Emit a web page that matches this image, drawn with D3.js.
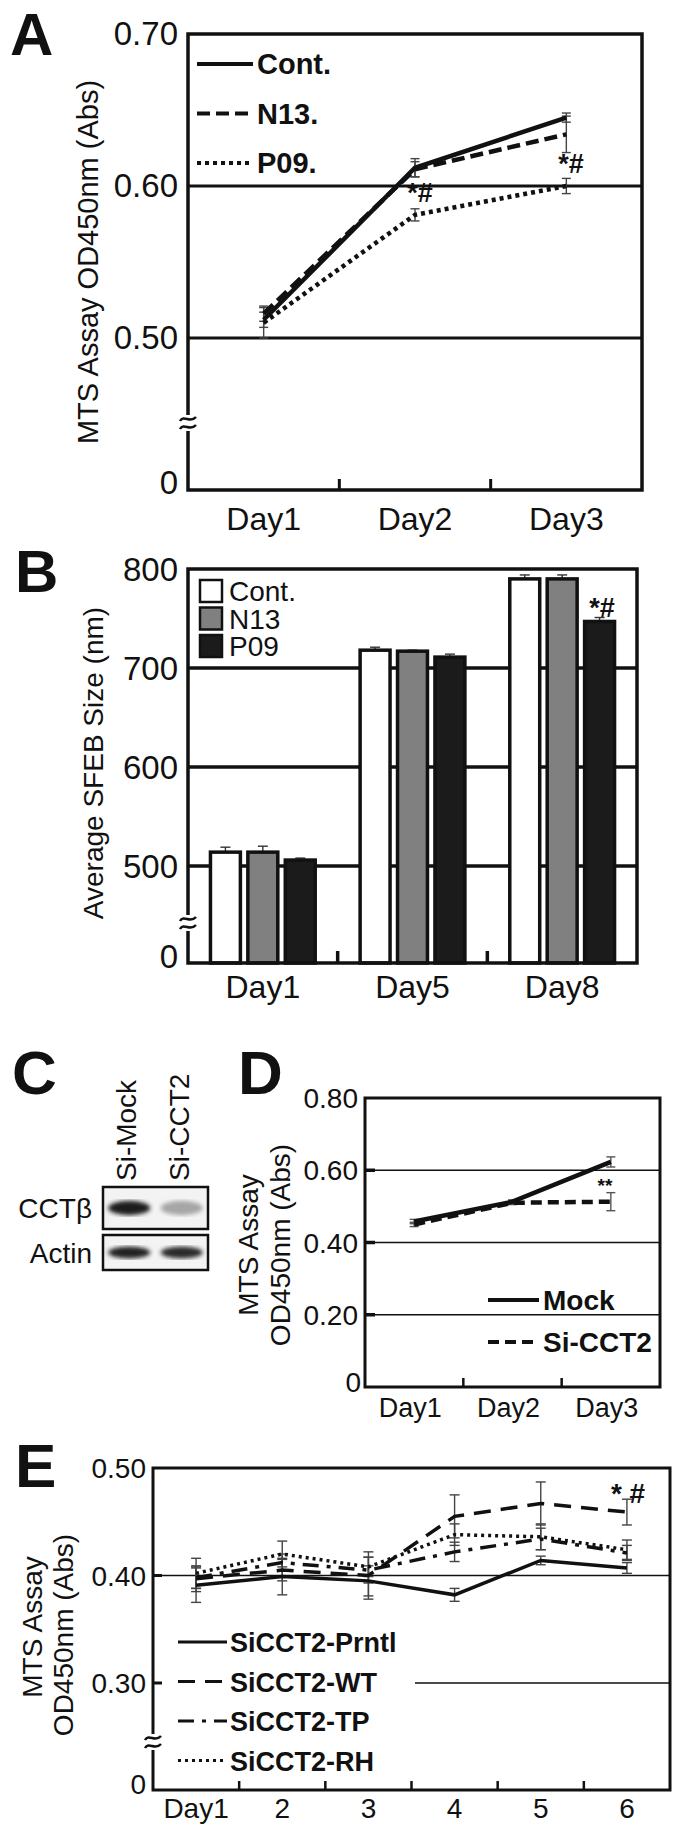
<!DOCTYPE html>
<html>
<head>
<meta charset="utf-8">
<script src="https://cdn.jsdelivr.net/npm/d3@7"></script>
<style>
  body { margin: 0; background: #fff; }
  text { font-family: "Liberation Sans", Arial, sans-serif; fill: #111; }
</style>
</head>
<body>
<div id="fig"></div>
<script>
// ---------- data ----------
// A: MTS assay, stable lines
const daysA = ["Day1", "Day2", "Day3"];
const contA = [0.512, 0.612, 0.645];
const contAErr = [0.005, 0.006, 0.003];
const n13A = [0.516, 0.611, 0.634];
const n13AErr = [0.005, 0.005, 0.012];
const p09A = [0.510, 0.581, 0.600];
const p09AErr = [0.010, 0.004, 0.005];
const ticksA = [0, 0.5, 0.6, 0.7];
const tickLabelsA = ["0", "0.50", "0.60", "0.70"];

// B: SFEB size
const daysB = ["Day1", "Day5", "Day8"];
const groupsB = ["Cont.", "N13", "P09"];
const contB = [514, 718, 790];
const contBErr = [5, 3, 4];
const n13B = [514, 717, 790];
const n13BErr = [6, 1, 4];
const p09B = [506, 711, 747];
const p09BErr = [2, 3, 4];
const ticksB = [0, 500, 600, 700, 800];

// C: western blot
const lanesC = ["Si-Mock", "Si-CCT2"];
const rowsC = ["CCTβ", "Actin"];
const cctbLevel = [0.95, 0.3];
const actinLevel = [0.92, 0.88];

// D: MTS after knock-down
const daysD = ["Day1", "Day2", "Day3"];
const mockD = [0.458, 0.513, 0.623];
const mockDErr = [0.006, 0.005, 0.014];
const siD = [0.450, 0.510, 0.513];
const siDErr = [0.006, 0.005, 0.025];
const ticksD = [0, 0.2, 0.4, 0.6, 0.8];
const tickLabelsD = ["0", "0.20", "0.40", "0.60", "0.80"];

// E: rescue constructs
const daysE = ["Day1", "2", "3", "4", "5", "6"];
const prntlE = [0.391, 0.399, 0.395, 0.382, 0.414, 0.407];
const prntlEErr = [0.016, 0.017, 0.014, 0.006, 0.004, 0.005];
const wtE = [0.397, 0.405, 0.400, 0.455, 0.467, 0.459];
const wtEErr = [0.012, 0.010, 0.022, 0.020, 0.020, 0.012];
const tpE = [0.398, 0.412, 0.405, 0.422, 0.434, 0.421];
const tpEErr = [0.010, 0.008, 0.012, 0.009, 0.010, 0.007];
const rhE = [0.402, 0.420, 0.408, 0.438, 0.436, 0.424];
const rhEErr = [0.014, 0.012, 0.009, 0.010, 0.012, 0.009];
const ticksE = [0, 0.3, 0.4, 0.5];
const tickLabelsE = ["0", "0.30", "0.40", "0.50"];

// ---------- helpers ----------
const W = 675, H = 1830;
const svg = d3.select("#fig").append("svg")
  .attr("width", W).attr("height", H)
  .style("background", "#fff");

function label(x, y, s, size, anchor, bold) {
  return svg.append("text").attr("x", x).attr("y", y)
    .attr("font-size", size)
    .attr("text-anchor", anchor || "start")
    .attr("font-weight", bold ? "bold" : "normal")
    .text(s);
}

function vlabel(cx, cy, s, size) {
  svg.append("text")
    .attr("transform", `translate(${cx},${cy}) rotate(-90)`)
    .attr("text-anchor", "middle").attr("dy", "0.35em")
    .attr("font-size", size).text(s);
}

function hline(x1, x2, y, w, col) {
  svg.append("line").attr("x1", x1).attr("x2", x2).attr("y1", y).attr("y2", y)
    .attr("stroke", col || "#111").attr("stroke-width", w);
}

function vline(x, y1, y2, w, col) {
  svg.append("line").attr("x1", x).attr("x2", x).attr("y1", y1).attr("y2", y2)
    .attr("stroke", col || "#111").attr("stroke-width", w);
}

// the "≈" break mark on a y axis
function axisBreak(x, y) {
  svg.append("rect").attr("x", x - 5).attr("y", y - 8).attr("width", 10).attr("height", 16).attr("fill", "#fff");
  [-4, 4].forEach(o => {
    svg.append("path")
      .attr("d", `M${x - 8},${y + o + 2} C${x - 4},${y + o - 5} ${x + 2},${y + o + 5} ${x + 8},${y + o - 2}`)
      .attr("fill", "none").attr("stroke", "#111").attr("stroke-width", 2.5);
  });
}

function errorBars(xs, vals, errs, y, cap, col, upOnly) {
  vals.forEach((v, i) => {
    const top = y(v + errs[i]), bot = upOnly ? y(v) : y(v - errs[i]);
    vline(xs[i], top, bot, 1.4, col);
    hline(xs[i] - cap / 2, xs[i] + cap / 2, top, 1.4, col);
    if (!upOnly) hline(xs[i] - cap / 2, xs[i] + cap / 2, bot, 1.4, col);
  });
}

function drawLine(xs, vals, y, w, dash) {
  const pts = vals.map((v, i) => [xs[i], y(v)]);
  svg.append("path").attr("d", d3.line()(pts))
    .attr("fill", "none").attr("stroke", "#111").attr("stroke-width", w)
    .attr("stroke-dasharray", dash || null);
}

function box(x0, y0, x1, y1, w) {
  svg.append("rect").attr("x", x0).attr("y", y0).attr("width", x1 - x0).attr("height", y1 - y0)
    .attr("fill", "none").attr("stroke", "#111").attr("stroke-width", w);
}

function xTicks(x, n, bottom, len, w) {
  for (let i = 1; i < n; i++) {
    const px = x.range()[0] + x.step() * i;
    vline(px, bottom, bottom - len, w);
  }
}

// ---------- panel A ----------
{
  const L = 188, R = 642, T = 34, B = 490;
  const x = d3.scaleBand().domain(daysA).range([L, R]);
  const y = d3.scaleLinear().domain([0, 0.5, 0.7]).range([B, 338, T]);
  const xs = daysA.map(d => x(d) + x.bandwidth() / 2);

  [0.5, 0.6].forEach(v => hline(L, R, y(v), 3));
  errorBars(xs, contA, contAErr, y, 9, "#444");
  errorBars(xs, n13A, n13AErr, y, 9, "#444");
  errorBars(xs, p09A, p09AErr, y, 9, "#444");
  drawLine(xs, p09A, y, 4.5, "4,4");
  drawLine(xs, n13A, y, 4.5, "13,6");
  drawLine(xs, contA, y, 4.5);

  box(L, T, R, B, 3.5);
  xTicks(x, daysA.length, B, 11, 3);
  axisBreak(L, 423);

  ticksA.forEach((v, i) => label(178, y(v) + (v === 0 ? 4 : 11), tickLabelsA[i], 33, "end"));
  daysA.forEach((d, i) => label(xs[i], 530, d, 32, "middle"));
  vlabel(88, 262, "MTS Assay OD450nm (Abs)", 29);

  // legend
  const leg = [["Cont.", null], ["N13.", "13,6"], ["P09.", "4,4"]];
  leg.forEach((l, i) => {
    const ly = 64 + i * 49.5;
    svg.append("line").attr("x1", 197).attr("x2", 253).attr("y1", ly).attr("y2", ly)
      .attr("stroke", "#111").attr("stroke-width", 4).attr("stroke-dasharray", l[1]);
    label(257, ly + 10, l[0], 29, "start", true);
  });

  label(420, 202, "*#", 27, "middle", true);
  label(571, 173, "*#", 27, "middle", true);
  label(10, 55, "A", 60, "start", true);
}

// ---------- panel B ----------
{
  const L = 188, R = 637, T = 569, B = 963;
  const x0 = d3.scaleBand().domain(daysB).range([L, R]);
  const gw = x0.step() * 0.7;
  const x1 = d3.scaleBand().domain(groupsB).range([0, gw]).paddingInner(0.2);
  const y = d3.scaleLinear().domain([0, 500, 800]).range([B, 866, T]);
  const fills = { "Cont.": "#fff", "N13": "#808080", "P09": "#1b1b1b" };
  const vals = { "Cont.": contB, "N13": n13B, "P09": p09B };
  const errs = { "Cont.": contBErr, "N13": n13BErr, "P09": p09BErr };

  [500, 600, 700].forEach(v => hline(L, R, y(v), 3.5));

  groupsB.forEach(g => {
    const xs = daysB.map(d => x0(d) + (x0.step() - gw) / 2 + x1(g) + x1.bandwidth() / 2);
    errorBars(xs, vals[g], errs[g], y, 10, "#333", true);
    svg.selectAll(null).data(daysB).enter().append("rect")
      .attr("x", (d, i) => xs[i] - x1.bandwidth() / 2)
      .attr("y", (d, i) => y(vals[g][i]))
      .attr("width", x1.bandwidth())
      .attr("height", (d, i) => B - y(vals[g][i]))
      .attr("fill", fills[g]).attr("stroke", "#111").attr("stroke-width", 3.5);
  });

  box(L, T, R, B, 3.5);
  xTicks(x0, daysB.length, B, 12, 3.5);
  axisBreak(L, 923);

  ticksB.forEach(v => label(178, y(v) + (v === 0 ? 5 : 12), String(v), 33, "end"));
  daysB.forEach(d => label(x0(d) + x0.step() / 2, 998, d, 32, "middle"));
  vlabel(93, 763, "Average SFEB Size (nm)", 28);

  groupsB.forEach((g, i) => {
    const ty = 580 + i * 27.5;
    svg.append("rect").attr("x", 200).attr("y", ty).attr("width", 22).attr("height", 22)
      .attr("fill", fills[g]).attr("stroke", "#111").attr("stroke-width", 2.5);
    label(229, ty + 21, g, 28);
  });

  label(602, 617, "*#", 27, "middle", true);
  label(15, 592, "B", 60, "start", true);
}

// ---------- panel C ----------
{
  const lane = d3.scaleBand().domain(lanesC).range([103, 208]);
  const shade = d3.scaleLinear().domain([0, 1]).range(["#e6e6e6", "#111"]);
  const rowY = { "CCTβ": [1187, 1229], "Actin": [1235, 1270] };
  const levels = { "CCTβ": cctbLevel, "Actin": actinLevel };

  const defs = svg.append("defs");
  defs.append("filter").attr("id", "blur").append("feGaussianBlur").attr("stdDeviation", 2.2);

  rowsC.forEach(r => {
    const [y0, y1] = rowY[r];
    svg.append("rect").attr("x", 103).attr("y", y0).attr("width", 105).attr("height", y1 - y0)
      .attr("fill", "#f3f3f3");
    svg.selectAll(null).data(lanesC).enter().append("ellipse")
      .attr("cx", d => lane(d) + lane.bandwidth() / 2)
      .attr("cy", (y0 + y1) / 2)
      .attr("rx", 21).attr("ry", (y1 - y0) * 0.17)
      .attr("fill", (d, i) => shade(levels[r][i]))
      .attr("filter", "url(#blur)");
    box(103, y0, 208, y1, 2.5);
    label(92, (y0 + y1) / 2 + 10, r, 28, "end");
  });

  lanesC.forEach(l => {
    svg.append("text")
      .attr("transform", `translate(${lane(l) + lane.bandwidth() / 2 + 7},1181) rotate(-90)`)
      .attr("font-size", 28).text(l);
  });
  label(12, 1094, "C", 62, "start", true);
}

// ---------- panel D ----------
{
  const L = 365, R = 660, T = 1098, B = 1387;
  const x = d3.scaleBand().domain(daysD).range([L, R]);
  const y = d3.scaleLinear().domain([0, 0.8]).range([B, T]);
  const xs = daysD.map(d => x(d) + x.bandwidth() / 2);

  [0.2, 0.4, 0.6].forEach(v => hline(L, R, y(v), 1.6));
  [0.2, 0.4, 0.6].forEach(v => hline(L, L + 10, y(v), 3.5));
  errorBars(xs, mockD, mockDErr, y, 9, "#555");
  errorBars(xs, siD, siDErr, y, 9, "#555");
  drawLine(xs, siD, y, 4.5, "11,6");
  drawLine(xs, mockD, y, 4.5);

  box(L, T, R, B, 3);
  xTicks(x, daysD.length, B, 9, 2.5);

  ticksD.forEach((v, i) => label(v === 0 ? 361 : 358, y(v) + (v === 0 ? 5 : 10), tickLabelsD[i], 28, "end"));
  daysD.forEach((d, i) => label(xs[i] - 4, 1417, d, 27, "middle"));
  vlabel(248, 1245, "MTS Assay", 28);
  vlabel(280, 1245, "OD450nm (Abs)", 28);

  const leg = [["Mock", null], ["Si-CCT2", "11,6"]];
  leg.forEach((l, i) => {
    const ly = 1300 + i * 42;
    svg.append("line").attr("x1", 488).attr("x2", 539).attr("y1", ly).attr("y2", ly)
      .attr("stroke", "#111").attr("stroke-width", 4).attr("stroke-dasharray", l[1]);
    label(543, ly + 10, l[0], 28, "start", true);
  });

  label(605, 1192, "**", 19, "middle", true);
  label(238, 1094, "D", 62, "start", true);
}

// ---------- panel E ----------
{
  const L = 153, R = 670, T = 1468, B = 1790;
  const x = d3.scaleBand().domain(daysE).range([L, R]);
  const y = d3.scaleLinear().domain([0, 0.3, 0.5]).range([B, 1683, T]);
  const xs = daysE.map(d => x(d) + x.bandwidth() / 2);

  hline(L, R, y(0.4), 1.6);
  hline(415, R, y(0.3), 1.6);
  [0.3, 0.4].forEach(v => hline(L, L + 9, y(v), 3));

  [prntlE, wtE, tpE, rhE].forEach((s, k) =>
    errorBars(xs, s, [prntlEErr, wtEErr, tpEErr, rhEErr][k], y, 10, "#444"));
  drawLine(xs, rhE, y, 3.5, "3,4");
  drawLine(xs, tpE, y, 3.5, "16,8,4,8");
  drawLine(xs, wtE, y, 3.5, "17,10");
  drawLine(xs, prntlE, y, 3.5);

  box(L, T, R, B, 3);
  xTicks(x, daysE.length, B, 9, 2.5);
  axisBreak(L, 1742);

  ticksE.forEach((v, i) => label(146, y(v) + (v === 0 ? 4 : 10), tickLabelsE[i], 28, "end"));
  daysE.forEach((d, i) => label(xs[i], 1818, d, 28, "middle"));
  vlabel(32, 1627, "MTS Assay", 28);
  vlabel(63, 1635, "OD450nm (Abs)", 28);

  const leg = [["SiCCT2-Prntl", null], ["SiCCT2-WT", "17,10"], ["SiCCT2-TP", "16,8,4,8"], ["SiCCT2-RH", "3,4"]];
  leg.forEach((l, i) => {
    const ly = 1642 + i * 39.5;
    svg.append("line").attr("x1", 178).attr("x2", 227).attr("y1", ly).attr("y2", ly)
      .attr("stroke", "#111").attr("stroke-width", 3).attr("stroke-dasharray", l[1]);
    label(230, ly + 10, l[0], 27, "start", true);
  });

  label(628, 1503, "* #", 28, "middle", true);
  label(15, 1487, "E", 62, "start", true);
}
</script>
</body>
</html>
